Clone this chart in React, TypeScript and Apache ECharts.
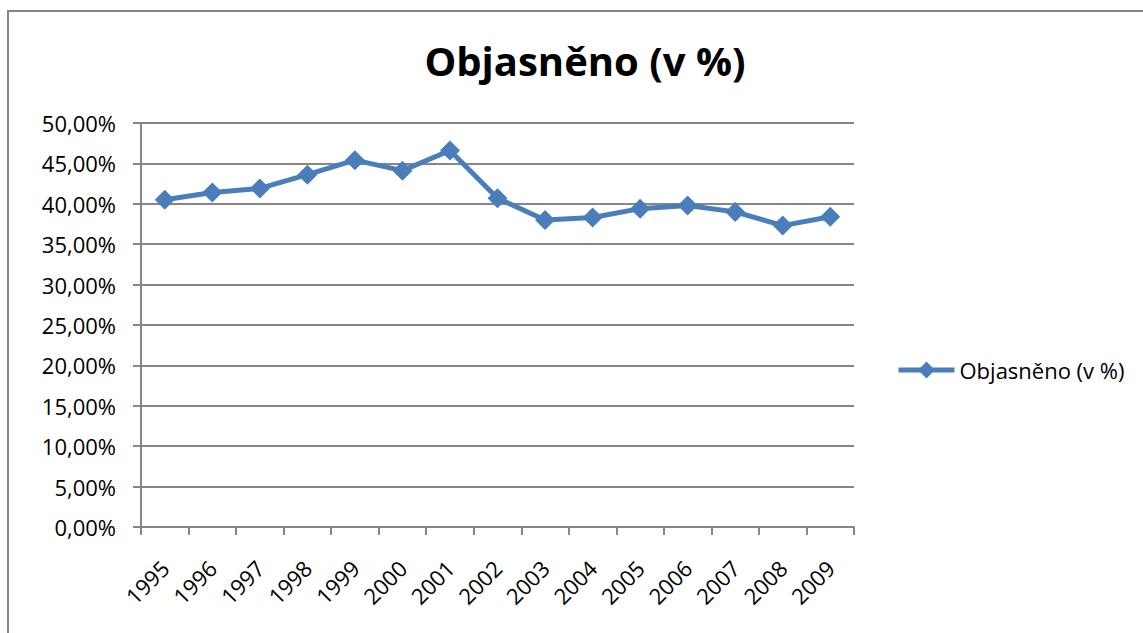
import React, { useEffect, useRef } from "react";
import * as echarts from "echarts";

const years = ["1995","1996","1997","1998","1999","2000","2001","2002","2003","2004","2005","2006","2007","2008","2009"];
const objasneno = [40.5, 41.4, 41.9, 43.6, 45.4, 44.1, 46.6, 40.7, 38.0, 38.3, 39.4, 39.8, 39.0, 37.3, 38.4];
const seriesName = "Objasněno (v %)";
const titleText = "Objasněno (v %)";

const FONT = "'Open Sans', 'Noto Sans', 'DejaVu Sans', sans-serif";
const GREY = "#868686";
const BLUE = "#4a7ebb";

export default function App() {
  const ref = useRef<HTMLDivElement>(null);
  useEffect(() => {
    if (!ref.current) return;
    const chart = echarts.init(ref.current, undefined, { renderer: "svg" });
    chart.setOption({
      animation: false,
      backgroundColor: "#ffffff",
      title: {
        text: titleText,
        left: 580,
        textAlign: "center",
        top: 35,
        textStyle: { fontFamily: FONT, fontSize: 40, fontWeight: "bold", color: "#000" },
      },
      legend: {
        left: 891,
        top: 354,
        itemWidth: 56,
        itemHeight: 21,
        lineStyle: { width: 5, color: BLUE },
        itemStyle: { color: BLUE },
        textStyle: { fontFamily: FONT, fontSize: 22, color: "#000" },
        data: [seriesName],
      },
      graphic: [
        {
          type: "rect",
          shape: { x: 8, y: 11, width: 1300, height: 800 },
          style: { fill: "none", stroke: GREY, lineWidth: 2 },
          silent: true,
        },
      ],
      grid: { left: 141, right: 289, top: 123, bottom: 106, containLabel: false },
      xAxis: {
        type: "category",
        data: years,
        boundaryGap: true,
        axisLine: { show: true, lineStyle: { color: GREY, width: 2 } },
        axisTick: { show: true, length: 8, alignWithLabel: false, interval: 0, lineStyle: { color: GREY, width: 2 } },
        axisLabel: {
          interval: 0,
          rotate: 45,
          margin: 37,
          fontFamily: FONT,
          fontSize: 22,
          color: "#000",
        },
      },
      yAxis: {
        type: "value",
        min: 0,
        max: 50,
        interval: 5,
        axisLine: { show: true, lineStyle: { color: GREY, width: 2 } },
        axisTick: { show: true, length: 8, lineStyle: { color: GREY, width: 2 } },
        splitLine: { show: true, lineStyle: { color: GREY, width: 2 } },
        axisLabel: {
          margin: 25,
          fontFamily: FONT,
          fontSize: 22,
          color: "#000",
          formatter: (v: number) => v.toFixed(2).replace(".", ",") + "%",
        },
      },
      series: [
        {
          name: seriesName,
          type: "line",
          data: objasneno,
          symbol: "diamond",
          symbolSize: 20,
          lineStyle: { color: BLUE, width: 5 },
          itemStyle: { color: BLUE },
        },
      ],
    });
    return () => chart.dispose();
  }, []);
  return (
    <div
      ref={ref}
      style={{ position: "fixed", left: 0, top: 0, width: 1143, height: 633 }}
    />
  );
}
